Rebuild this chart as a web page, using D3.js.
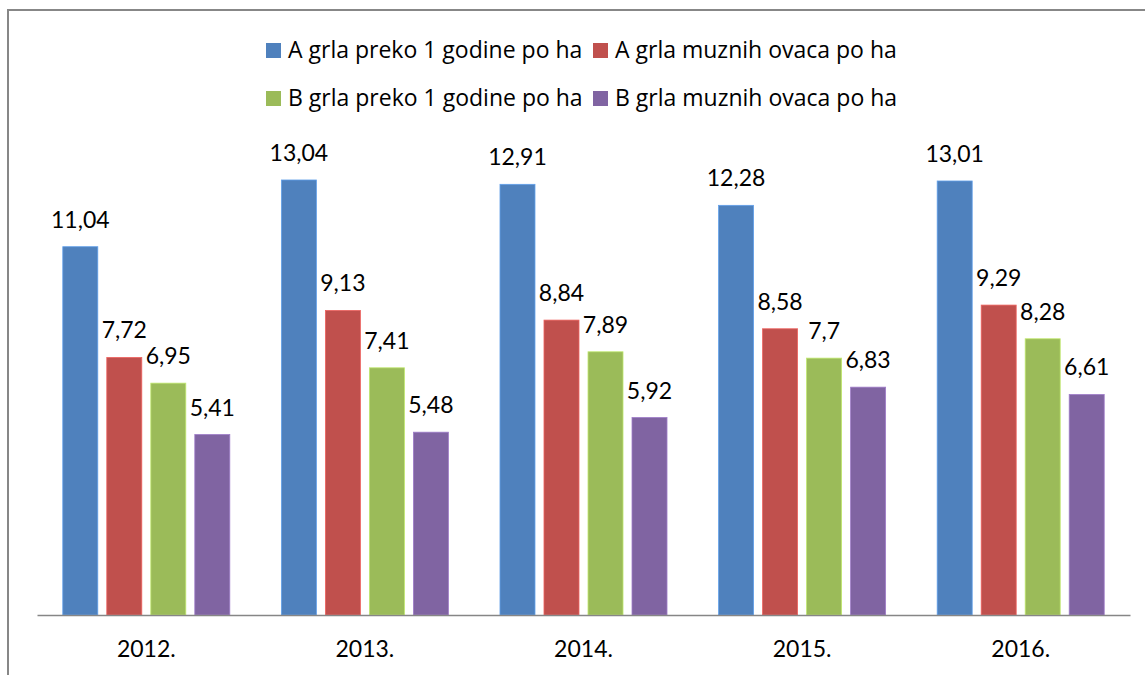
<!DOCTYPE html>
<html>
<head>
<meta charset="utf-8">
<script src="https://cdn.jsdelivr.net/npm/d3@7"></script>
<style>
  html, body { margin: 0; padding: 0; background: #fff; overflow: hidden; }
  svg { display: block; }
  text { font-family: Lato, "Open Sans", "Noto Sans", sans-serif; fill: #000; }
</style>
</head>
<body>
<svg id="chart" width="1145" height="675"></svg>
<script>
const categories = ["2012.", "2013.", "2014.", "2015.", "2016."];
const seriesNames = [
  "A grla preko 1 godine po ha",
  "A grla muznih ovaca po ha",
  "B grla preko 1 godine po ha",
  "B grla muznih ovaca po ha"
];
const seriesColors = ["#4F81BD", "#C0504D", "#9BBB59", "#8064A2"];
const aPreko = [11.04, 13.04, 12.91, 12.28, 13.01];
const aMuzne = [7.72, 9.13, 8.84, 8.58, 9.29];
const bPreko = [6.95, 7.41, 7.89, 7.7, 8.28];
const bMuzne = [5.41, 5.48, 5.92, 6.83, 6.61];
const seriesValues = [aPreko, aMuzne, bPreko, bMuzne];

const svg = d3.select("#chart");

// frame (top and left edges visible)
svg.append("path")
  .attr("d", "M8,675 L8,10 L1145,10")
  .attr("fill", "none").attr("stroke", "#878787").attr("stroke-width", 2);

const baseY = 615;
const x0 = d3.scaleBand().domain(categories).range([37, 1130]).padding(0);
const x1 = d3.scaleBand().domain(d3.range(seriesNames.length))
  .range([0, x0.bandwidth()]).paddingInner(0.2045).paddingOuter(0.586);
const y = d3.scaleLinear().domain([0, 14]).range([baseY, baseY - 33.36 * 14]);

const fmt = v => String(v).replace(".", ",");

const groups = svg.append("g").selectAll("g")
  .data(categories).join("g")
  .attr("transform", d => `translate(${x0(d)},0)`);

groups.each(function(cat, ci) {
  const g = d3.select(this);
  const rows = seriesValues.map((arr, si) => ({ si, v: arr[ci] }));
  g.selectAll("rect").data(rows).join("rect")
    .attr("x", d => x1(d.si))
    .attr("y", d => y(d.v))
    .attr("width", x1.bandwidth())
    .attr("height", d => baseY - y(d.v))
    .attr("fill", d => seriesColors[d.si])
    .attr("stroke", d => d3.color(seriesColors[d.si]).brighter(0.6))
    .attr("stroke-width", 0.8);
  g.selectAll("text.lbl").data(rows).join("text")
    .attr("class", "lbl")
    .attr("x", d => x1(d.si) + x1.bandwidth() / 2)
    .attr("y", d => y(d.v) - 19)
    .attr("text-anchor", "middle")
    .style("font-size", "23px")
    .text(d => fmt(d.v));
});

// x axis
const xAxis = d3.axisBottom(x0).tickSize(0).tickPadding(0);
const ax = svg.append("g").attr("transform", `translate(0,${baseY})`).call(xAxis);
ax.select(".domain").attr("stroke", "#868686").attr("stroke-width", 1.5);
ax.selectAll(".tick text")
  .attr("y", 42).attr("dy", null)
  .style("font-size", "23px")
  .style("font-family", 'Lato, "Open Sans", sans-serif')
  .attr("fill", "#000");

// legend
const legendPos = [
  { x: 266, y: 43 }, { x: 593, y: 43 },
  { x: 266, y: 91 }, { x: 593, y: 91 }
];
const lg = svg.append("g").selectAll("g").data(seriesNames).join("g")
  .attr("transform", (d, i) => `translate(${legendPos[i].x},${legendPos[i].y})`);
lg.append("rect").attr("width", 15).attr("height", 15)
  .attr("fill", (d, i) => seriesColors[i]);
lg.append("text").attr("x", 22).attr("y", 15)
  .style("font-family", '"Open Sans", "Noto Sans", sans-serif')
  .style("font-size", "23px")
  .text(d => d);
</script>
</body>
</html>
